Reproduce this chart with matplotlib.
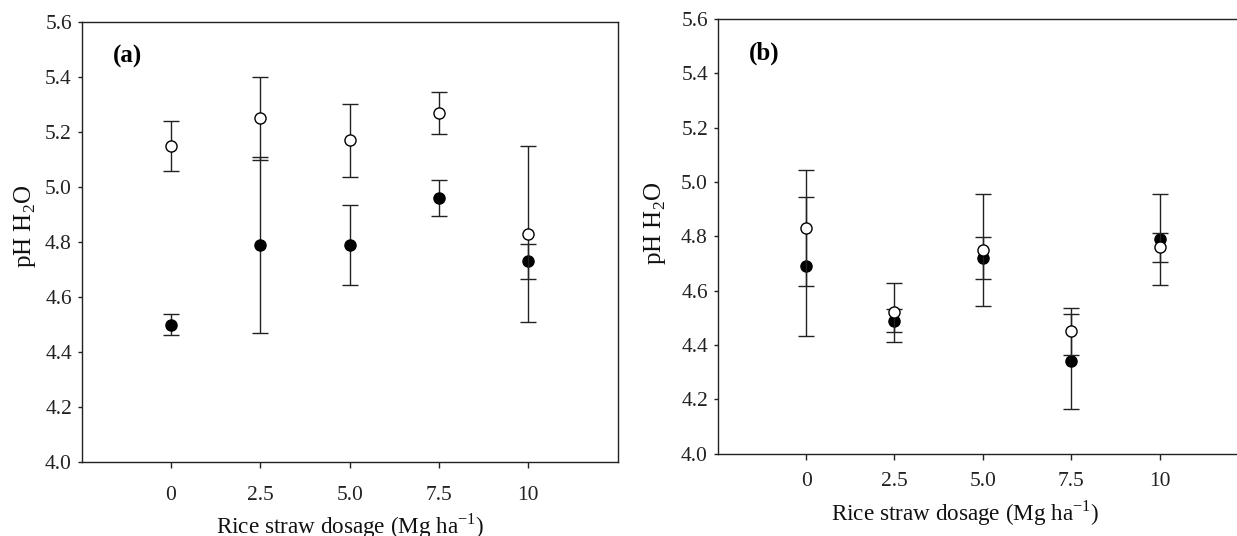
import matplotlib
matplotlib.use("Agg")
import matplotlib.pyplot as plt

plt.rcParams['font.family'] = ['Liberation Serif', 'DejaVu Serif']
plt.rcParams['mathtext.fontset'] = 'custom'
plt.rcParams['mathtext.rm'] = 'Liberation Serif'
plt.rcParams['mathtext.bf'] = 'Liberation Serif:bold'

dosage = [0, 2.5, 5.0, 7.5, 10]
tick_labels = ['0', '2.5', '5.0', '7.5', '10']

# panel (a)
a_open = [5.15, 5.25, 5.17, 5.27, 4.83]
a_open_err = [0.09, 0.15, 0.133, 0.077, 0.32]
a_fill = [4.50, 4.79, 4.79, 4.96, 4.73]
a_fill_err = [0.038, 0.32, 0.145, 0.065, 0.063]

# panel (b)
b_open = [4.83, 4.52, 4.75, 4.45, 4.76]
b_open_err = [0.214, 0.11, 0.205, 0.087, 0.053]
b_fill = [4.69, 4.49, 4.72, 4.34, 4.79]
b_fill_err = [0.255, 0.043, 0.077, 0.175, 0.167]

fig = plt.figure(figsize=(12.37, 5.36), dpi=100)
ax1 = fig.add_axes([0.0660, 0.1381, 0.4333, 0.8203])
ax2 = fig.add_axes([0.5802, 0.1535, 0.4287, 0.8108])


def draw(ax, op, op_e, fl, fl_e, tag, xpad, lab_y, ylab_x, ylab_y, lab_x=0.5):
    ax.errorbar(dosage, fl, yerr=fl_e, fmt='o', color='black', ecolor='#222222',
                elinewidth=1, capsize=5.5, capthick=1, markersize=8, zorder=3)
    ax.errorbar(dosage, op, yerr=op_e, fmt='o', color='black', ecolor='#222222',
                mfc='white', mec='black', mew=1, elinewidth=1, capsize=5.5,
                capthick=1, markersize=8, zorder=4)
    ax.set_xlim(-2.5, 12.5)
    ax.set_ylim(4.0, 5.6)
    ax.set_xticks(dosage)
    ax.set_xticklabels(tick_labels)
    ax.set_yticks([4.0, 4.2, 4.4, 4.6, 4.8, 5.0, 5.2, 5.4, 5.6])
    ax.set_yticklabels(['4.0', '4.2', '4.4', '4.6', '4.8', '5.0', '5.2', '5.4', '5.6'])
    ax.tick_params(axis='x', direction='out', length=4.3, width=1, pad=xpad,
                   labelsize=15.5, colors='#222222')
    ax.tick_params(axis='y', direction='out', length=3, width=1, pad=4,
                   labelsize=15.5, colors='#222222')
    for s in ax.spines.values():
        s.set_linewidth(1)
        s.set_color('#222222')
    ax.set_xlabel('Rice straw dosage (Mg ha$^{\\mathregular{-1}}$)', fontsize=16.7,
                  color='#111111')
    ax.xaxis.set_label_coords(lab_x, lab_y)
    ax.set_ylabel('pH H$_{\\mathregular{2}}$O', fontsize=18, color='#111111')
    ax.yaxis.set_label_coords(ylab_x, ylab_y)
    ax.text(0.058, 0.922, tag, transform=ax.transAxes, fontsize=18,
            fontweight='bold', va='center', ha='left')


draw(ax1, a_open, a_open_err, a_fill, a_fill_err, '(a)', 13, -0.112, -0.082, 0.537)
draw(ax2, b_open, b_open_err, b_fill, b_fill_err, '(b)', 9, -0.103, -0.094, 0.530,
     lab_x=0.466)

fig.savefig('out.png', dpi=100)
